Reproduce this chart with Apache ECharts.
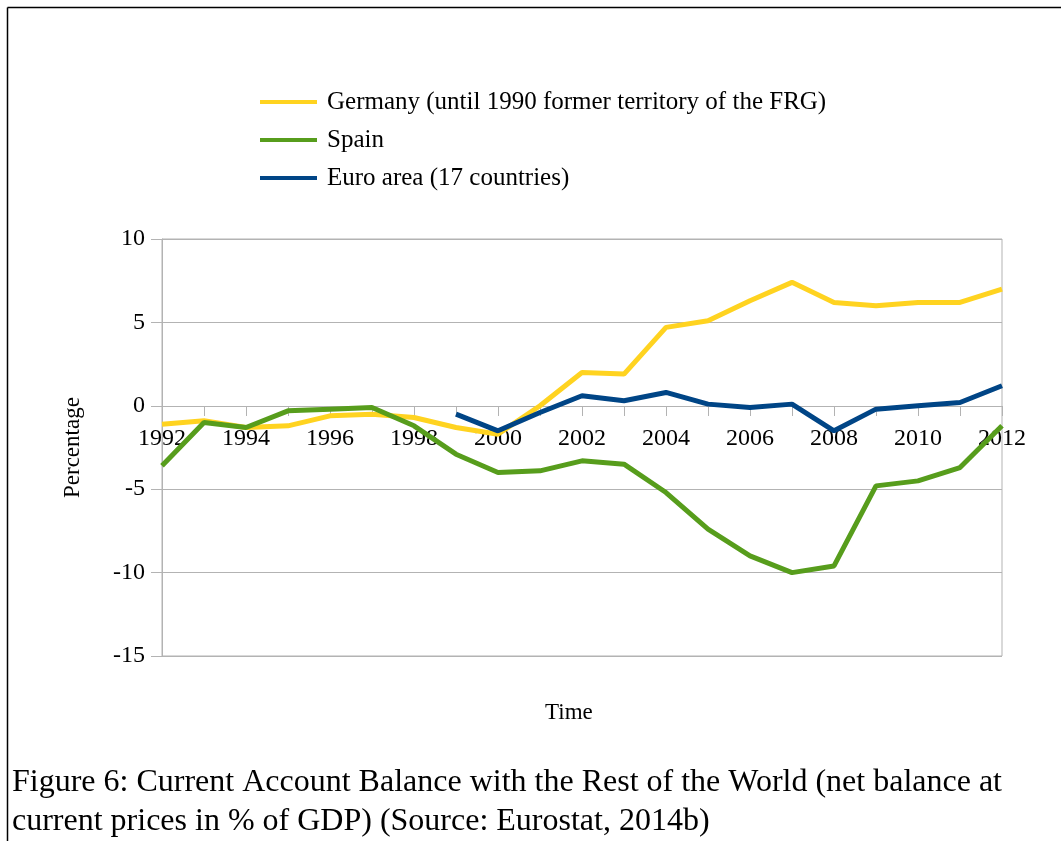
<!DOCTYPE html>
<html>
<head>
<meta charset="utf-8">
<script src="https://cdn.jsdelivr.net/npm/echarts@6/dist/echarts.min.js"></script>
<style>
  html, body { margin: 0; padding: 0; background: #fff; }
  #chart { width: 1061px; height: 841px; }
</style>
</head>
<body>
<div id="chart"></div>
<script>
// years on the x axis
const years = ['1992', '1993', '1994', '1995', '1996', '1997', '1998', '1999', '2000', '2001',
  '2002', '2003', '2004', '2005', '2006', '2007', '2008', '2009', '2010', '2011', '2012'];

// current account balance, % of GDP
const germany = [-1.1, -0.9, -1.3, -1.2, -0.6, -0.5, -0.7, -1.3, -1.7, 0.0,
  2.0, 1.9, 4.7, 5.1, 6.3, 7.4, 6.2, 6.0, 6.2, 6.2, 7.0];
const spain = [-3.6, -1.0, -1.3, -0.3, -0.2, -0.1, -1.2, -2.9, -4.0, -3.9,
  -3.3, -3.5, -5.2, -7.4, -9.0, -10.0, -9.6, -4.8, -4.5, -3.7, -1.2];
const euroArea = [null, null, null, null, null, null, null, -0.5, -1.5, -0.4,
  0.6, 0.3, 0.8, 0.1, -0.1, 0.1, -1.5, -0.2, 0.0, 0.2, 1.2];

const seriesNames = ['Germany (until 1990 former territory of the FRG)', 'Spain', 'Euro area (17 countries)'];
const colors = ['#ffd320', '#579d1c', '#004586'];

const font = 'Liberation Serif';
const gridGray = '#b3b3b3';

const chart = echarts.init(document.getElementById('chart'));

const makeLine = (name, data, color) => ({
    name: name,
    type: 'line',
    data: data,
    symbol: 'none',
    z: 5,
    lineStyle: { color: color, width: 5 },
    itemStyle: { color: color },
    animation: false
});

const option = {
    backgroundColor: '#fff',
    textStyle: { fontFamily: font },
    title: {
        text: 'Figure 6: Current Account Balance with the Rest of the World (net balance at\ncurrent prices in % of GDP) (Source: Eurostat, 2014b)',
        left: 12,
        top: 763,
        padding: 0,
        textStyle: { fontFamily: font, fontSize: 32, fontWeight: 'normal', color: '#000', lineHeight: 39 }
    },
    legend: {
        orient: 'vertical',
        left: 255,
        top: 84,
        itemWidth: 57,
        itemHeight: 4,
        itemGap: 12,
        icon: 'rect',
        data: seriesNames,
        textStyle: { fontFamily: font, fontSize: 25, color: '#000', lineHeight: 26, padding: [0, 0, 0, 5] }
    },
    grid: {
        left: 162,
        top: 239,
        width: 840,
        height: 417,
        show: true,
        borderColor: gridGray,
        borderWidth: 1
    },
    xAxis: {
        type: 'category',
        data: years,
        boundaryGap: false,
        // sits on the zero line (417 * 15 / 25 above the grid bottom)
        offset: -250,
        axisLine: { onZero: false, lineStyle: { color: gridGray, width: 1 } },
        axisTick: { show: true, interval: 0, length: 10, lineStyle: { color: gridGray } },
        axisLabel: { interval: 1, margin: 21, fontFamily: font, fontSize: 24, color: '#000' },
        splitLine: { show: false }
    },
    yAxis: {
        type: 'value',
        min: -15,
        max: 10,
        interval: 5,
        axisLine: { show: true, lineStyle: { color: gridGray, width: 1 } },
        axisTick: { show: true, length: 11, lineStyle: { color: gridGray } },
        axisLabel: { margin: 17, fontFamily: font, fontSize: 24, color: '#000' },
        splitLine: { lineStyle: { color: gridGray, width: 1 } }
    },
    graphic: [
        { type: 'line', shape: { x1: 7.5, y1: 7.5, x2: 1061, y2: 7.5 }, style: { stroke: '#000', lineWidth: 1.5 } },
        { type: 'line', shape: { x1: 7.5, y1: 7.5, x2: 7.5, y2: 841 }, style: { stroke: '#000', lineWidth: 1.5 } },
        {
            type: 'text', left: 545, top: 701,
            style: { text: 'Time', font: '23px "Liberation Serif"', fill: '#000' }
        },
        {
            type: 'text', x: 61, y: 498, rotation: Math.PI / 2,
            style: { text: 'Percentage', font: '23px "Liberation Serif"', fill: '#000' }
        }
    ],
    series: [
        makeLine(seriesNames[0], germany, colors[0]),
        makeLine(seriesNames[1], spain, colors[1]),
        makeLine(seriesNames[2], euroArea, colors[2])
    ]
};

chart.setOption(option);

window.addEventListener('resize', () => {
    chart.resize();
});
</script>
</body>
</html>
